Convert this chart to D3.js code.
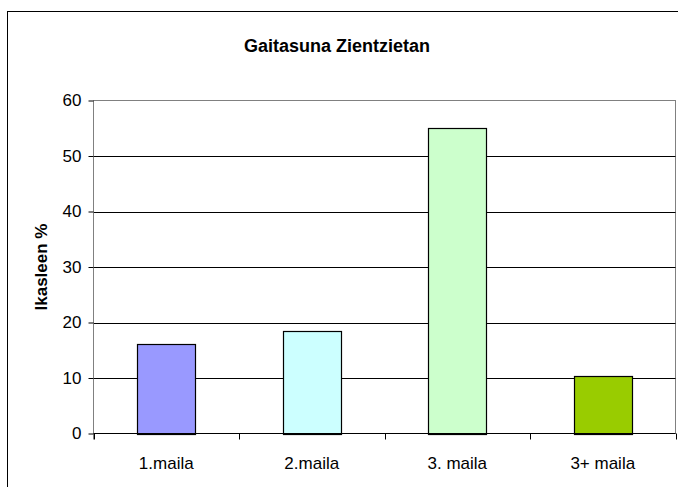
<!DOCTYPE html>
<meta charset="utf-8">
<style>
	body { margin: 0; font-family: Arial, "Liberation Sans", sans-serif; background: #fff; }
	text { fill: #000; }
</style>
<body>
<svg id="chart" width="678" height="487"></svg>
<script src="https://d3js.org/d3.v7.min.js"></script>
<script>
	// data
	var categories = ["1.maila", "2.maila", "3. maila", "3+ maila"];
	var values = [16.2, 18.5, 55, 10.3];
	var barColors = ["#9999ff", "#ccffff", "#ccffcc", "#99cc00"];
	var yTicks = [0, 10, 20, 30, 40, 50, 60];

	var svg = d3.select("#chart"),
		margin = {top: 100.5, left: 93.5, right: 675.5, bottom: 433.5};

	// outer chart border (runs off the right and bottom edge)
	svg.append("rect")
		.attr("x", 7.5).attr("y", 11.5)
		.attr("width", 700).attr("height", 500)
		.attr("fill", "#fff")
		.attr("stroke", "#000");

	var x = d3.scaleBand()
		.domain(categories)
		.range([margin.left, margin.right])
		.paddingInner(0.6)
		.paddingOuter(0.3);

	var xb = d3.scaleBand()
		.domain(categories)
		.range([margin.left, margin.right]);

	var y = d3.scaleLinear()
		.domain([0, 60])
		.range([margin.bottom, margin.top]);

	// plot area border
	svg.append("rect")
		.attr("x", margin.left).attr("y", margin.top)
		.attr("width", margin.right - margin.left)
		.attr("height", margin.bottom - margin.top)
		.attr("fill", "none")
		.attr("stroke", "#808080");

	// gridlines
	svg.append("g")
		.selectAll("line")
		.data(yTicks.slice(1, -1))
		.enter().append("line")
		.attr("x1", margin.left).attr("x2", margin.right)
		.attr("y1", function(d) { return Math.round(y(d)) + 0.5; })
		.attr("y2", function(d) { return Math.round(y(d)) + 0.5; })
		.attr("stroke", "#000");

	// bars
	svg.append("g")
		.selectAll("rect")
		.data(values)
		.enter().append("rect")
		.attr("x", function(d, i) { return Math.round(x(categories[i])) + 0.5; })
		.attr("y", function(d) { return Math.round(y(d)) + 0.5; })
		.attr("width", Math.round(x.bandwidth()))
		.attr("height", function(d) { return Math.round(y(0)) - Math.round(y(d)); })
		.attr("fill", function(d, i) { return barColors[i]; })
		.attr("stroke", "#000")
		.attr("stroke-width", 1.2);

	// y axis
	var yAxis = svg.append("g")
		.attr("transform", "translate(" + margin.left + ",0)")
		.call(d3.axisLeft(y).tickValues(yTicks).tickSize(5).tickPadding(7));
	yAxis.select(".domain").attr("stroke", "#808080").attr("d", "M0," + margin.top + "V" + (margin.bottom + 6));
	yAxis.selectAll(".tick line").attr("stroke", "#000");
	yAxis.selectAll("text").style("font-size", "17px").style("font-family", "Arial");

	// x axis
	var xAxis = svg.append("g")
		.attr("transform", "translate(0," + margin.bottom + ")")
		.call(d3.axisBottom(xb).tickSize(0).tickPadding(23));
	xAxis.select(".domain").attr("stroke", "#000").attr("d", "M" + margin.left + ",0H" + margin.right);
	xAxis.selectAll("text").style("font-size", "17px").style("font-family", "Arial");
	xAxis.selectAll(".sep")
		.data(categories.concat(["end"]))
		.enter().append("line")
		.attr("x1", function(d, i) { return Math.round(margin.left + i * xb.step()) + 0.5; })
		.attr("x2", function(d, i) { return Math.round(margin.left + i * xb.step()) + 0.5; })
		.attr("y1", 0).attr("y2", 6)
		.attr("stroke", "#000");

	// titles
	svg.append("text")
		.attr("x", 337).attr("y", 52)
		.attr("text-anchor", "middle")
		.style("font-size", "18px").style("font-weight", "bold")
		.text("Gaitasuna Zientzietan");

	svg.append("text")
		.attr("transform", "translate(47," + ((margin.top + margin.bottom) / 2) + ") rotate(-90)")
		.attr("text-anchor", "middle")
		.style("font-size", "17px").style("font-weight", "bold")
		.text("Ikasleen %");
</script>
</body>
